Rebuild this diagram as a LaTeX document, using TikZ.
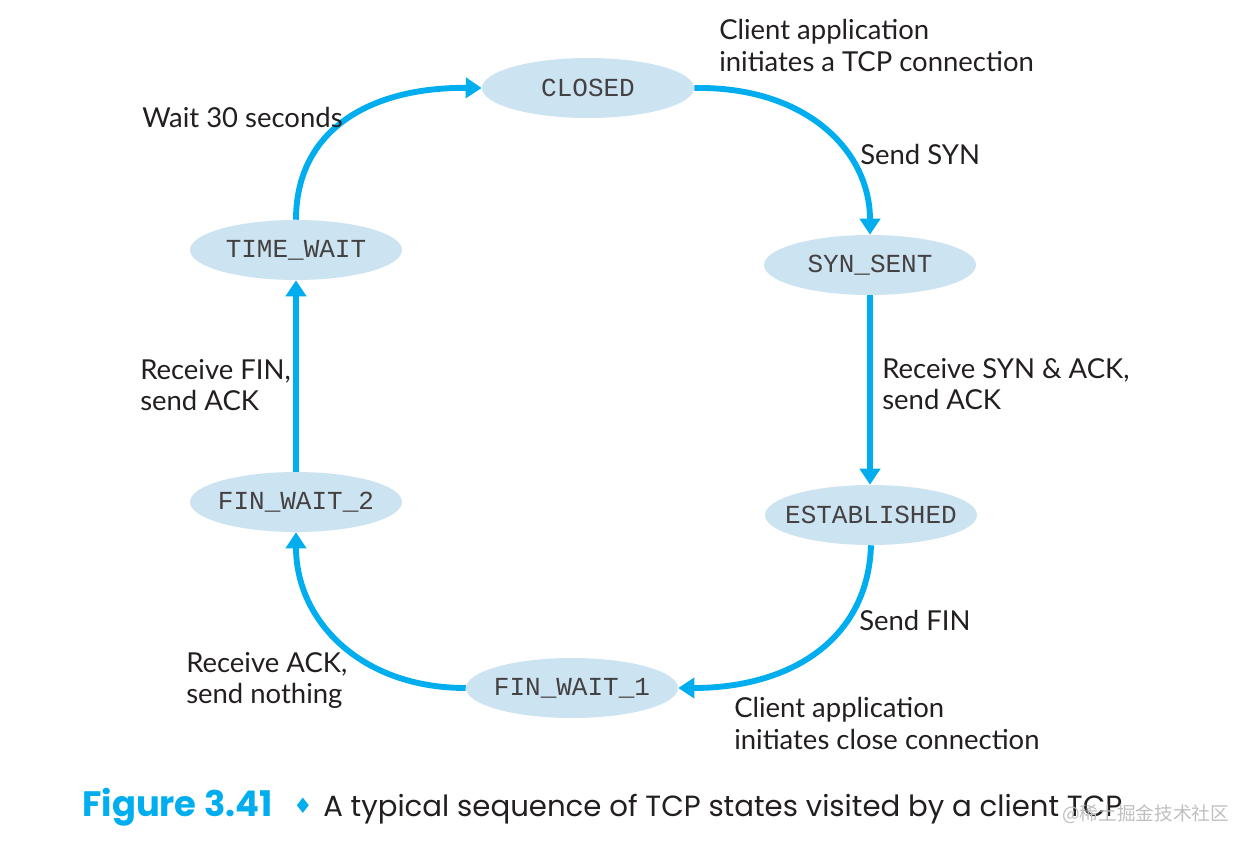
\documentclass[tikz,border=0pt]{standalone}
\usepackage{fontspec}
\setmainfont{Lato}
\newfontfamily\monof{Liberation Mono}
\newfontfamily\capf{Poppins}
\newfontfamily\symf{DejaVu Sans}
\newfontfamily\cjk{Noto Sans CJK SC}
\usetikzlibrary{shapes.geometric,arrows.meta}
\definecolor{arrc}{HTML}{00AEEF}
\definecolor{fillc}{HTML}{CCE3F1}
\definecolor{txt}{HTML}{231F20}
\begin{document}
\begin{tikzpicture}[x=0.75pt,y=-0.75pt,
 state/.style={ellipse, fill=fillc, minimum width=159pt, minimum height=45pt, inner sep=0pt, font=\monof\fontsize{19.5}{20}\selectfont, text=txt!85},
 lbl/.style={anchor=base west, inner sep=0pt, font=\fontsize{20.6}{24}\selectfont, text=txt},
 arr/.style={draw=arrc, line width=4.4pt, -{Triangle[width=15pt,length=12pt]}}]
\useasboundingbox[fill=white] (0,0) rectangle (1245,846);

\node[state] (closed) at (588,88) {\makebox[0pt]{CLOSED}};
\node[state] (synsent) at (870,265) {\makebox[0pt]{SYN\_SENT}};
\node[state] (estab) at (871,515) {\makebox[0pt]{ESTABLISHED}};
\node[state] (fw1) at (572,688) {\makebox[0pt]{FIN\_WAIT\_1}};
\node[state] (fw2) at (296,502) {\makebox[0pt]{FIN\_WAIT\_2}};
\node[state] (tw) at (296,250) {\makebox[0pt]{TIME\_WAIT}};

\draw[arr] (closed.east) .. controls (805,86) and (870,150) .. (synsent.north);
\draw[arr] (synsent.south) -- (synsent.south |- estab.north);
\draw[arr] (estab.south) .. controls (868,640) and (790,688) .. (fw1.east);
\draw[arr] (fw1.west) .. controls (360,688) and (296,620) .. (fw2.south);
\draw[arr] (fw2.north) -- (tw.south);
\draw[arr] (tw.north) .. controls (296,130) and (370,87) .. (closed.west);

\node[lbl] (l1a) at (719,39) {Client application};
\node[lbl] (l1b) at (719,71) {initiates a TCP connection};
\node[lbl] (l2) at (860,164) {Send SYN};
\node[lbl] (l3a) at (882,378) {Receive SYN \& ACK,};
\node[lbl] (l3b) at (882,409) {send ACK};
\node[lbl] (l4) at (859,630) {Send FIN};
\node[lbl] (l5a) at (734,717) {Client application};
\node[lbl] (l5b) at (734,749) {initiates close connection};
\node[lbl] (l6a) at (186,672) {Receive ACK,};
\node[lbl] (l6b) at (186,703) {send nothing};
\node[lbl] (l7a) at (140,379) {Receive FIN,};
\node[lbl] (l7b) at (140,410) {send ACK};
\node[lbl] (l8) at (142,127) {Wait 30 seconds};

\node[anchor=base west, inner sep=0pt, text=arrc, font=\capf\bfseries\fontsize{26.5}{28}\selectfont] (fig) at (82,816) {Figure 3.41};
\node[anchor=base, inner sep=0pt, text=arrc, font=\symf\fontsize{16}{20}\selectfont] (dia) at (303,813) {♦};
\node[anchor=base west, inner sep=0pt, text=txt, font=\capf\fontsize{21.9}{26}\selectfont] (cap) at (323,816) {A typical sequence of TCP states visited by a client TCP};
\node[anchor=base west, inner sep=0pt, text=black!25, font=\cjk\fontsize{14}{16}\selectfont] (wm) at (1062,820) {@稀土掘金技术社区};
\end{tikzpicture}
\end{document}
